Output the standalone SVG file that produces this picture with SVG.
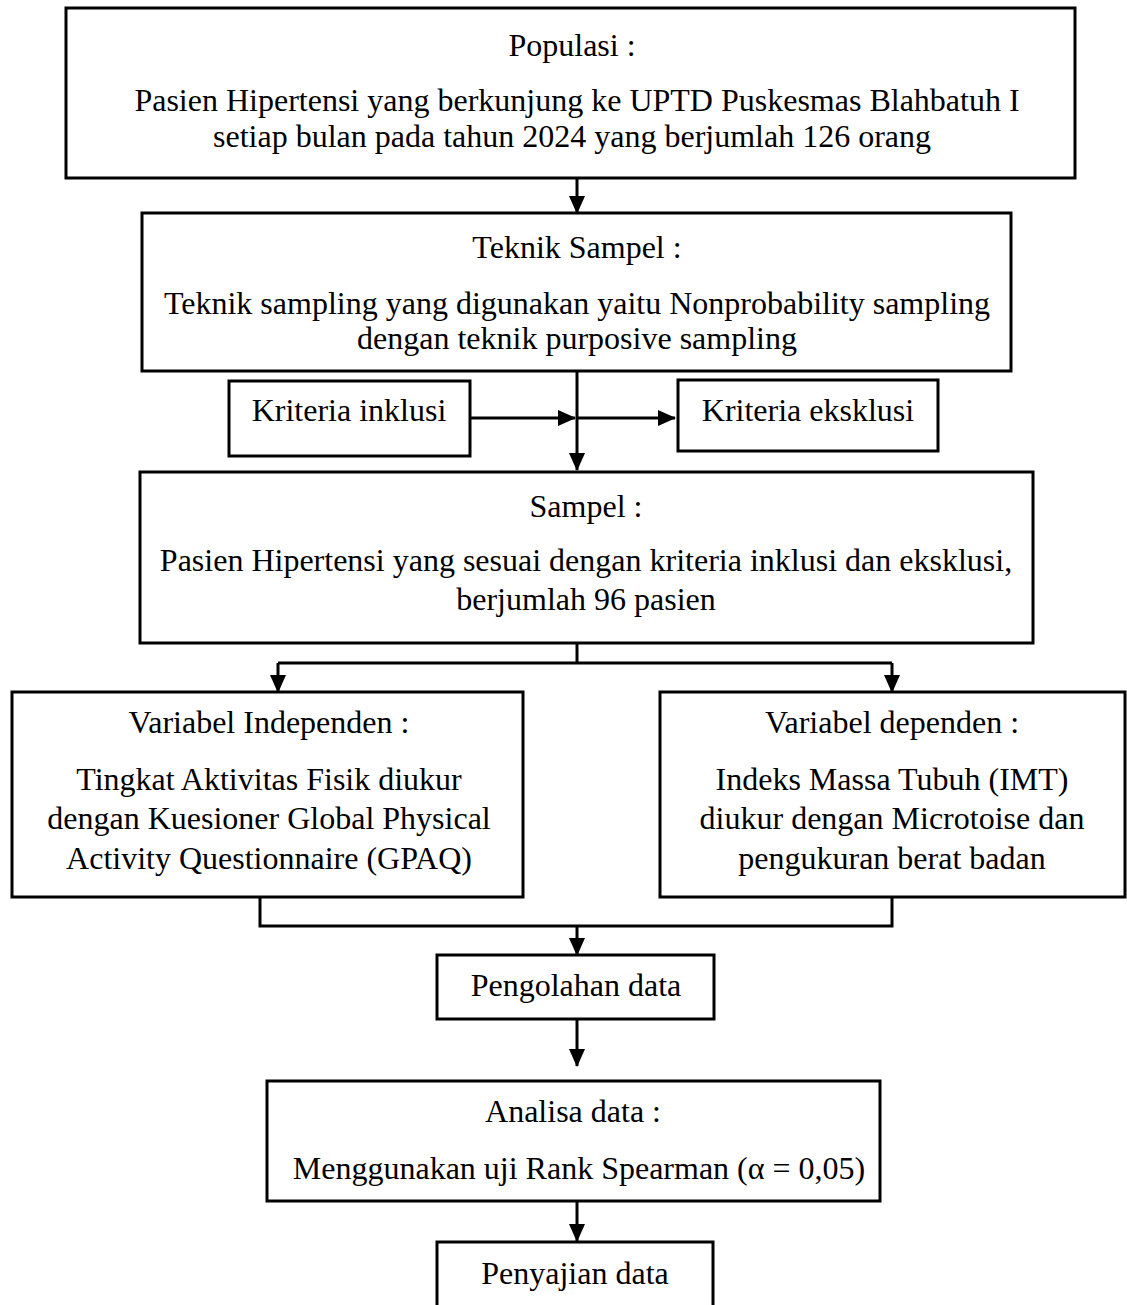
<svg xmlns="http://www.w3.org/2000/svg" width="1127" height="1305" viewBox="0 0 1127 1305">
<style>
.box{fill:#fff;stroke:#000;stroke-width:3}
.t{font-family:"Liberation Serif","Times New Roman",serif;font-size:32px;fill:#000;text-anchor:middle}
.c{fill:none;stroke:#000;stroke-width:3}
</style>
<defs>
<marker id="ah" markerWidth="18" markerHeight="16" refX="17" refY="8" orient="auto" markerUnits="userSpaceOnUse" viewBox="0 0 18 16">
<path d="M0,0 L18,8 L0,16 Z" fill="#000"/>
</marker>
</defs>
<rect width="1127" height="1305" fill="#fff"/>
<g id="populasi">
<rect class="box" x="66" y="8" width="1009" height="170"/>
<text class="t" x="572" y="56">Populasi :</text>
<text class="t" x="577" y="111">Pasien Hipertensi yang berkunjung ke UPTD Puskesmas Blahbatuh I</text>
<text class="t" x="572" y="147">setiap bulan pada tahun 2024 yang berjumlah 126 orang</text>
</g>
<g id="teknik">
<rect class="box" x="142" y="213" width="869" height="158"/>
<text class="t" x="577" y="258">Teknik Sampel :</text>
<text class="t" x="577" y="314">Teknik sampling yang digunakan yaitu Nonprobability sampling</text>
<text class="t" x="577" y="349">dengan teknik purposive sampling</text>
</g>
<g id="inklusi">
<rect class="box" x="229" y="381" width="241" height="75"/>
<text class="t" x="349" y="421">Kriteria inklusi</text>
</g>
<g id="eksklusi">
<rect class="box" x="678" y="380" width="260" height="71"/>
<text class="t" x="808" y="421">Kriteria eksklusi</text>
</g>
<g id="sampel">
<rect class="box" x="140" y="472" width="893" height="171"/>
<text class="t" x="586" y="517">Sampel :</text>
<text class="t" x="586" y="571">Pasien Hipertensi yang sesuai dengan kriteria inklusi dan eksklusi,</text>
<text class="t" x="586" y="610">berjumlah 96 pasien</text>
</g>
<g id="independen">
<rect class="box" x="12" y="692" width="511" height="205"/>
<text class="t" x="269" y="733">Variabel Independen :</text>
<text class="t" x="269" y="790">Tingkat Aktivitas Fisik diukur</text>
<text class="t" x="269" y="829">dengan Kuesioner Global Physical</text>
<text class="t" x="269" y="869">Activity Questionnaire (GPAQ)</text>
</g>
<g id="dependen">
<rect class="box" x="660" y="692" width="465" height="205"/>
<text class="t" x="892" y="733">Variabel dependen :</text>
<text class="t" x="892" y="790">Indeks Massa Tubuh (IMT)</text>
<text class="t" x="892" y="829">diukur dengan Microtoise dan</text>
<text class="t" x="892" y="869">pengukuran berat badan</text>
</g>
<g id="pengolahan">
<rect class="box" x="437" y="955" width="277" height="64"/>
<text class="t" x="576" y="996">Pengolahan data</text>
</g>
<g id="analisa">
<rect class="box" x="267" y="1081" width="613" height="120"/>
<text class="t" x="573" y="1122">Analisa data :</text>
<text class="t" x="579" y="1179">Menggunakan uji Rank Spearman (α = 0,05)</text>
</g>
<g id="penyajian">
<rect class="box" x="437" y="1242" width="276" height="80"/>
<text class="t" x="575" y="1284">Penyajian data</text>
</g>
<g id="connectors">
<line class="c" x1="577" y1="178" x2="577" y2="213" marker-end="url(#ah)"/>
<line class="c" x1="577" y1="371" x2="577" y2="470" marker-end="url(#ah)"/>
<line class="c" x1="470" y1="418" x2="575" y2="418" marker-end="url(#ah)"/>
<line class="c" x1="577" y1="418" x2="675" y2="418" marker-end="url(#ah)"/>
<polyline class="c" points="577,643 577,663"/>
<polyline class="c" points="278,663 892,663"/>
<line class="c" x1="278" y1="663" x2="278" y2="692" marker-end="url(#ah)"/>
<line class="c" x1="892" y1="663" x2="892" y2="692" marker-end="url(#ah)"/>
<polyline class="c" points="260,897 260,926 892,926 892,897"/>
<line class="c" x1="577" y1="926" x2="577" y2="955" marker-end="url(#ah)"/>
<line class="c" x1="577" y1="1019" x2="577" y2="1066" marker-end="url(#ah)"/>
<line class="c" x1="577" y1="1201" x2="577" y2="1241" marker-end="url(#ah)"/>
</g>
</svg>
